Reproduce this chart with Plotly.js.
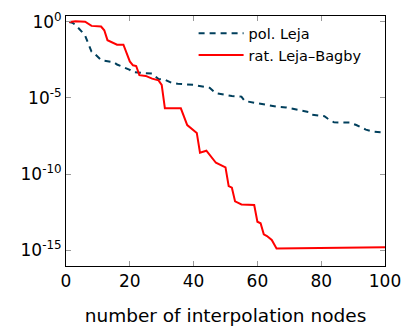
<!DOCTYPE html>
<html>
<head>
<meta charset="utf-8">
<script src="https://cdn.plot.ly/plotly-3.0.1.min.js"></script>
<style>html,body{margin:0;padding:0;background:#fff;}#chart{width:405px;height:329px;}</style>
</head>
<body>
<div id="chart"></div>
<script>
// pol. Leja: node number and log10 of error
const polX = [1, 2, 3, 4, 5, 6, 7, 8, 9, 10, 11, 12, 15, 16, 18, 20, 21, 25, 27, 29, 31, 33, 35, 40, 43, 45, 47, 50, 52, 55, 56, 59, 62, 63, 66, 69, 71, 73, 76, 77, 81, 82, 84, 89, 91, 94, 96, 100];
const polLog = [0, -0.05, -0.2, -0.4, -0.65, -0.9, -1.45, -1.95, -2.1, -2.3, -2.5, -2.55, -2.65, -2.8, -2.98, -3.15, -3.3, -3.38, -3.4, -3.75, -3.8, -4.0, -4.07, -4.14, -4.24, -4.33, -4.69, -4.8, -4.87, -4.91, -5.2, -5.31, -5.42, -5.5, -5.57, -5.62, -5.7, -5.77, -5.92, -6.1, -6.2, -6.35, -6.6, -6.62, -6.78, -7.08, -7.2, -7.28];
// rat. Leja–Bagby
const ratX = [1, 3, 6, 8, 11, 12, 13, 15, 16, 18, 20, 21, 22, 23, 25, 27, 29, 30, 31, 36, 38, 41, 42, 44, 45, 47, 50, 51, 52, 53, 54, 55, 59, 60, 61, 62, 63, 64.5, 66, 80, 88, 100];
const ratLog = [0, 0.05, 0.02, -0.26, -0.3, -0.55, -1.2, -1.43, -1.5, -1.5, -2.6, -2.85, -2.9, -3.5, -3.55, -3.73, -3.84, -4.14, -5.68, -5.68, -6.78, -7.3, -8.6, -8.47, -8.75, -9.26, -9.56, -10.8, -10.9, -11.8, -11.9, -12.0, -12.04, -13.14, -13.24, -13.97, -14.08, -14.34, -14.9, -14.88, -14.82, -14.82];

const yTickVals = [1, 1e-5, 1e-10, 1e-15];
const yTickText = ['10<sup>0</sup>', '10<sup>-5</sup>', '10<sup>-10</sup>', '10<sup>-15</sup>'];
const xTickVals = [0, 20, 40, 60, 80, 100];

const toVal = a => a.map(v => Math.pow(10, v));

const traces = [
  {x: polX, y: toVal(polLog), name: 'pol. Leja', mode: 'lines',
   line: {color: '#003f5c', width: 2, dash: '6px,5px'}},
  {x: ratX, y: toVal(ratLog), name: 'rat. Leja–Bagby', mode: 'lines',
   line: {color: '#ff0000', width: 2}}
];

const font = 'DejaVu Sans, sans-serif';
const layout = {
  width: 405, height: 329,
  margin: {l: 66, r: 20, t: 16, b: 63},
  paper_bgcolor: '#fff', plot_bgcolor: '#fff',
  showlegend: true,
  legend: {x: 0.4, y: 0.995, xanchor: 'left', yanchor: 'top', bgcolor: 'rgba(0,0,0,0)',
           itemwidth: 45,
           font: {family: font, size: 14.5, color: '#000'}, tracegroupgap: 0},
  xaxis: {range: [0, 100], tickvals: xTickVals, ticks: 'inside', ticklen: 5, tickcolor: '#999',
          showline: true, linecolor: '#000', linewidth: 1, mirror: 'allticks', showgrid: false, zeroline: false,
          tickfont: {family: font, size: 17, color: '#000'},
          title: {text: 'number of interpolation nodes', font: {family: font, size: 18.5, color: '#000'}, standoff: 18}},
  yaxis: {type: 'log', range: [-16.05, 0.39], tickvals: yTickVals, ticktext: yTickText,
          ticks: 'inside', ticklen: 5, tickcolor: '#999',
          showline: true, linecolor: '#000', linewidth: 1, mirror: 'allticks', showgrid: false, zeroline: false,
          tickfont: {family: font, size: 17, color: '#000'}}
};

Plotly.newPlot('chart', traces, layout, {staticPlot: true, displayModeBar: false});
</script>
</body>
</html>
